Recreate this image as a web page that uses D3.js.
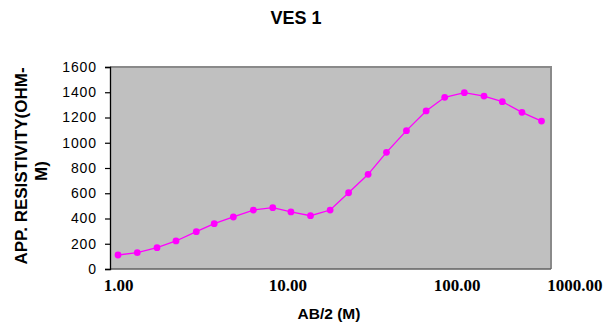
<!DOCTYPE html>
<html><head><meta charset="utf-8">
<script src="https://cdn.jsdelivr.net/npm/d3@7"></script>
<style>
html,body{margin:0;padding:0;background:#fff;}
svg{display:block;}
</style></head>
<body>
<svg id="chart" width="604" height="324"></svg>
<script>
// Data
const abHalf = [1, 1.3, 1.7, 2.2, 2.9, 3.7, 4.8, 6.3, 8.2, 10.5, 13.7, 17.9, 23, 30, 38.5, 50.5, 66, 85, 111, 145, 186, 243, 317];
const resistivity = [111, 129, 169, 222, 296, 359, 412, 467, 486, 452, 422, 467, 604, 750, 924, 1096, 1252, 1360, 1397, 1370, 1325, 1241, 1172];
const xTickValues = [1, 10, 100, 1000];
const yTickValues = [0, 200, 400, 600, 800, 1000, 1200, 1400, 1600];
const titleText = "VES 1";
const xTitle = "AB/2 (M)";
const yTitleLines = ["APP. RESISTIVITY(OHM-", "M)"];

const W = 604, H = 324;
const plot = {left: 110, right: 551, top: 67, bottom: 269};

const svg = d3.select("#chart");

const x = d3.scaleLog().domain([1, 1000]).range([118, 626]);
const y = d3.scaleLinear().domain([0, 1600]).range([plot.bottom, plot.top]);

// plot area
svg.append("rect")
  .attr("x", plot.left).attr("y", plot.top)
  .attr("width", plot.right - plot.left).attr("height", plot.bottom - plot.top)
  .attr("fill", "#c0c0c0");
// top & right border
svg.append("path")
  .attr("d", `M${plot.left},${plot.top}H${plot.right}V${plot.bottom}`)
  .attr("fill", "none").attr("stroke", "#8a8a8a").attr("stroke-width", 2);
// bottom axis line
svg.append("line")
  .attr("x1", plot.left).attr("x2", plot.right)
  .attr("y1", plot.bottom).attr("y2", plot.bottom)
  .attr("stroke", "#606060").attr("stroke-width", 1.5);

// y axis
const yAxis = svg.append("g")
  .attr("transform", `translate(${plot.left},0)`)
  .call(d3.axisLeft(y).tickValues(yTickValues).tickSize(5).tickPadding(8).tickFormat(d3.format("d")));
yAxis.select(".domain").attr("stroke", "#000").attr("stroke-width", 1.3);
yAxis.selectAll(".tick line").attr("stroke", "#000").attr("stroke-width", 1.2);
yAxis.selectAll(".tick text")
  .attr("font-family", "Liberation Sans, Arial, sans-serif")
  .attr("font-size", 14).attr("letter-spacing", 0.9).attr("fill", "#000");

// x tick labels (no tick marks)
const xAxis = svg.append("g")
  .attr("transform", `translate(0,${plot.bottom})`)
  .call(d3.axisBottom(x).tickValues(xTickValues).tickSize(0).tickPadding(10).tickFormat(d3.format(".2f")));
xAxis.select(".domain").remove();
xAxis.selectAll(".tick text")
  .attr("font-family", "Liberation Serif, 'Times New Roman', serif")
  .attr("font-weight", "bold").attr("font-size", 17).attr("fill", "#000")
  .attr("dy", "0.71em");
// keep the last label inside the picture
xAxis.selectAll(".tick").each(function(d) {
  const t = d3.select(this).select("text");
  const bb = this.getBBox();
  const tx = x(d);
  const wdt = t.node().getComputedTextLength();
  if (tx + wdt / 2 > W - 2) {
    t.attr("dx", (W - 2 - wdt / 2) - tx);
  }
});

// line + markers
const line = d3.line().x((d, i) => x(abHalf[i])).y(d => y(d));
svg.append("path")
  .datum(resistivity)
  .attr("d", line)
  .attr("fill", "none").attr("stroke", "#ff00ff").attr("stroke-width", 1.3);
svg.append("g").selectAll("circle")
  .data(resistivity)
  .join("circle")
  .attr("cx", (d, i) => x(abHalf[i]))
  .attr("cy", d => y(d))
  .attr("r", 3.4)
  .attr("fill", "#ff00ff");

// title
svg.append("text")
  .attr("x", 296).attr("y", 24)
  .attr("text-anchor", "middle")
  .attr("font-family", "Liberation Sans, Arial, sans-serif")
  .attr("font-weight", "bold").attr("font-size", 18)
  .text(titleText);

// x title
svg.append("text")
  .attr("x", 329).attr("y", 319)
  .attr("text-anchor", "middle")
  .attr("font-family", "Liberation Sans, Arial, sans-serif")
  .attr("font-weight", "bold").attr("font-size", 15.5)
  .text(xTitle);

// y title (two lines, rotated)
const yt = svg.append("text")
  .attr("transform", `translate(0,${(plot.top + plot.bottom) / 2}) rotate(-90)`)
  .attr("text-anchor", "middle")
  .attr("font-family", "Liberation Sans, Arial, sans-serif")
  .attr("font-weight", "bold").attr("font-size", 17);
yTitleLines.forEach((s, i) => {
  yt.append("tspan").attr("x", i === 0 ? 2 : -3).attr("y", 27 + i * 20).text(s);
});
</script>
</body></html>
